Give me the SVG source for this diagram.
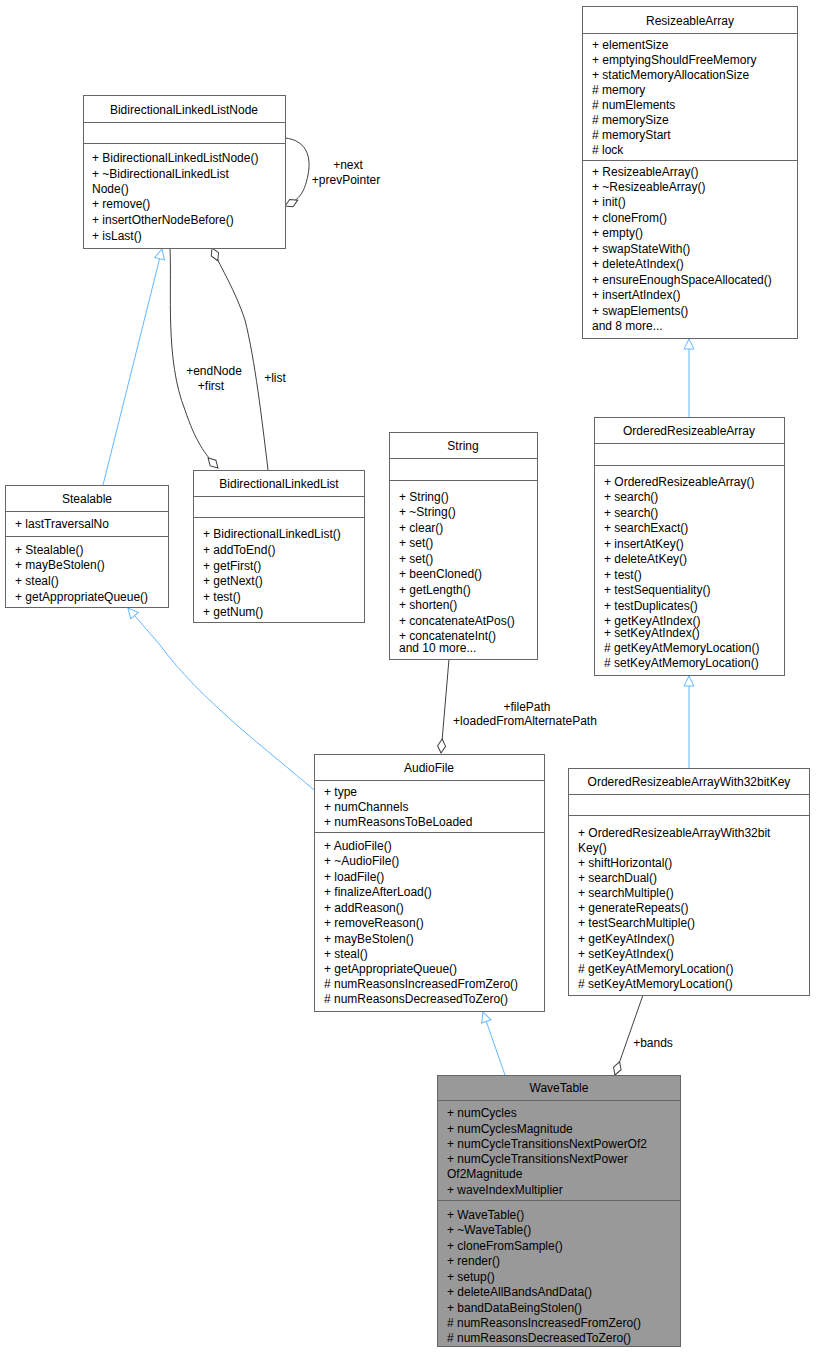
<svg xmlns="http://www.w3.org/2000/svg" width="816" height="1353" viewBox="0 0 816 1353">
<defs>
<style>
text{font-family:"Liberation Sans",Arial,sans-serif;font-size:12px;fill:#000}
.t{text-anchor:middle}
.box{fill:#fff;stroke:#666;stroke-width:1}
.sep{stroke:#666;stroke-width:1}
.inh{fill:none;stroke:#63b8ff;stroke-width:1}
.agg{fill:none;stroke:#404040;stroke-width:1}
</style>
<marker id="tri" viewBox="0 0 12 12" refX="11" refY="6" markerWidth="12" markerHeight="12" orient="auto" markerUnits="userSpaceOnUse"><path d="M1,1 L11,6 L1,11 Z" fill="#fff" stroke="#63b8ff"/></marker>
<marker id="dia" viewBox="0 0 16 10" refX="15" refY="5" markerWidth="16" markerHeight="10" orient="auto" markerUnits="userSpaceOnUse"><path d="M1,5 L8,1 L15,5 L8,9 Z" fill="#fff" stroke="#404040"/></marker>
</defs>
<rect width="816" height="1353" fill="#fff"/>
<g id="edges">
<path class="inh" d="M689,417 L689,339" marker-end="url(#tri)"/>
<path class="inh" d="M689,768 L689,676" marker-end="url(#tri)"/>
<path class="inh" d="M505,1075 L483,1012" marker-end="url(#tri)"/>
<path class="inh" d="M314,790 C270,752 200,700 160,645 L128,608" marker-end="url(#tri)"/>
<path class="inh" d="M103,485 L162,249" marker-end="url(#tri)"/>
<path class="agg" d="M285,138 C305,140 312,155 308,175 C304,195 298,200 285,206" marker-end="url(#dia)"/>
<path class="agg" d="M170,248 C172,290 165,360 185,410 C195,440 205,455 218,468" marker-end="url(#dia)"/>
<path class="agg" d="M268,470 C262,420 255,360 245,320 C235,290 222,270 212,248" marker-end="url(#dia)"/>
<path class="agg" d="M449,659 L441,753" marker-end="url(#dia)"/>
<path class="agg" d="M643,995 L615,1075" marker-end="url(#dia)"/>
<text x="348" y="169" class="t">+next</text>
<text x="346" y="184" class="t">+prevPointer</text>
<text x="214" y="375" class="t">+endNode</text>
<text x="211" y="390" class="t">+first</text>
<text x="275" y="382" class="t">+list</text>
<text x="527" y="711" class="t">+filePath</text>
<text x="525" y="725" class="t">+loadedFromAlternatePath</text>
<text x="653" y="1047" class="t">+bands</text>
</g>
<g id="ResizeableArray">
<rect class="box" x="582.5" y="6.5" width="215" height="332"/>
<text x="690" y="25" class="t">ResizeableArray</text>
<line class="sep" x1="582.5" y1="33.5" x2="797.5" y2="33.5"/>
<text x="592" y="49">+ elementSize</text><text x="592" y="64">+ emptyingShouldFreeMemory</text><text x="592" y="79">+ staticMemoryAllocationSize</text><text x="592" y="94"># memory</text><text x="592" y="109"># numElements</text><text x="592" y="124"># memorySize</text><text x="592" y="139"># memoryStart</text><text x="592" y="154"># lock</text>
<line class="sep" x1="582.5" y1="160.5" x2="797.5" y2="160.5"/>
<text x="592" y="176">+ ResizeableArray()</text><text x="592" y="191">+ ~ResizeableArray()</text><text x="592" y="206">+ init()</text><text x="592" y="222">+ cloneFrom()</text><text x="592" y="237">+ empty()</text><text x="592" y="253">+ swapStateWith()</text><text x="592" y="268">+ deleteAtIndex()</text><text x="592" y="284">+ ensureEnoughSpaceAllocated()</text><text x="592" y="299">+ insertAtIndex()</text><text x="592" y="315">+ swapElements()</text><text x="592" y="330">and 8 more...</text>
</g>
<g id="BidirectionalLinkedListNode">
<rect class="box" x="83.5" y="95.5" width="202" height="153"/>
<text x="184" y="114" class="t">BidirectionalLinkedListNode</text>
<line class="sep" x1="83.5" y1="122.5" x2="285.5" y2="122.5"/>
<line class="sep" x1="83.5" y1="143.5" x2="285.5" y2="143.5"/>
<text x="92" y="162">+ BidirectionalLinkedListNode()</text><text x="92" y="178">+ ~BidirectionalLinkedList</text><text x="92" y="193">Node()</text><text x="92" y="208">+ remove()</text><text x="92" y="224">+ insertOtherNodeBefore()</text><text x="92" y="240">+ isLast()</text>
</g>
<g id="Stealable">
<rect class="box" x="5.5" y="485.5" width="163" height="122"/>
<text x="87" y="503" class="t">Stealable</text>
<line class="sep" x1="5.5" y1="511.5" x2="168.5" y2="511.5"/>
<text x="15" y="528">+ lastTraversalNo</text>
<line class="sep" x1="5.5" y1="536.5" x2="168.5" y2="536.5"/>
<text x="15" y="554">+ Stealable()</text><text x="15" y="569">+ mayBeStolen()</text><text x="15" y="585">+ steal()</text><text x="15" y="601">+ getAppropriateQueue()</text>
</g>
<g id="BidirectionalLinkedList">
<rect class="box" x="193.5" y="470.5" width="171" height="152"/>
<text x="279" y="488" class="t">BidirectionalLinkedList</text>
<line class="sep" x1="193.5" y1="496.5" x2="364.5" y2="496.5"/>
<line class="sep" x1="193.5" y1="517.5" x2="364.5" y2="517.5"/>
<text x="203" y="538">+ BidirectionalLinkedList()</text><text x="203" y="554">+ addToEnd()</text><text x="203" y="570">+ getFirst()</text><text x="203" y="585">+ getNext()</text><text x="203" y="601">+ test()</text><text x="203" y="616">+ getNum()</text>
</g>
<g id="String">
<rect class="box" x="389.5" y="432.5" width="148" height="227"/>
<text x="463" y="450" class="t">String</text>
<line class="sep" x1="389.5" y1="458.5" x2="537.5" y2="458.5"/>
<line class="sep" x1="389.5" y1="480.5" x2="537.5" y2="480.5"/>
<text x="399" y="501">+ String()</text><text x="399" y="516">+ ~String()</text><text x="399" y="532">+ clear()</text><text x="399" y="547">+ set()</text><text x="399" y="563">+ set()</text><text x="399" y="578">+ beenCloned()</text><text x="399" y="594">+ getLength()</text><text x="399" y="609">+ shorten()</text><text x="399" y="625">+ concatenateAtPos()</text><text x="399" y="640">+ concatenateInt()</text><text x="399" y="652">and 10 more...</text>
</g>
<g id="OrderedResizeableArray">
<rect class="box" x="594.5" y="417.5" width="190" height="258"/>
<text x="689" y="435" class="t">OrderedResizeableArray</text>
<line class="sep" x1="594.5" y1="443.5" x2="784.5" y2="443.5"/>
<line class="sep" x1="594.5" y1="465.5" x2="784.5" y2="465.5"/>
<text x="604" y="486">+ OrderedResizeableArray()</text><text x="604" y="501">+ search()</text><text x="604" y="517">+ search()</text><text x="604" y="532">+ searchExact()</text><text x="604" y="548">+ insertAtKey()</text><text x="604" y="563">+ deleteAtKey()</text><text x="604" y="579">+ test()</text><text x="604" y="594">+ testSequentiality()</text><text x="604" y="610">+ testDuplicates()</text><text x="604" y="625">+ getKeyAtIndex()</text><text x="604" y="637">+ setKeyAtIndex()</text><text x="604" y="652"># getKeyAtMemoryLocation()</text><text x="604" y="667"># setKeyAtMemoryLocation()</text>
</g>
<g id="AudioFile">
<rect class="box" x="314.5" y="754.5" width="230" height="257"/>
<text x="429" y="772" class="t">AudioFile</text>
<line class="sep" x1="314.5" y1="780.5" x2="544.5" y2="780.5"/>
<text x="324" y="796">+ type</text><text x="324" y="811">+ numChannels</text><text x="324" y="826">+ numReasonsToBeLoaded</text>
<line class="sep" x1="314.5" y1="832.5" x2="544.5" y2="832.5"/>
<text x="324" y="850">+ AudioFile()</text><text x="324" y="865">+ ~AudioFile()</text><text x="324" y="881">+ loadFile()</text><text x="324" y="896">+ finalizeAfterLoad()</text><text x="324" y="912">+ addReason()</text><text x="324" y="927">+ removeReason()</text><text x="324" y="943">+ mayBeStolen()</text><text x="324" y="958">+ steal()</text><text x="324" y="973">+ getAppropriateQueue()</text><text x="324" y="988"># numReasonsIncreasedFromZero()</text><text x="324" y="1003"># numReasonsDecreasedToZero()</text>
</g>
<g id="OrderedResizeableArrayWith32bitKey">
<rect class="box" x="568.5" y="768.5" width="241" height="227"/>
<text x="689" y="786" class="t">OrderedResizeableArrayWith32bitKey</text>
<line class="sep" x1="568.5" y1="794.5" x2="809.5" y2="794.5"/>
<line class="sep" x1="568.5" y1="815.5" x2="809.5" y2="815.5"/>
<text x="578" y="837">+ OrderedResizeableArrayWith32bit</text><text x="578" y="852">Key()</text><text x="578" y="867">+ shiftHorizontal()</text><text x="578" y="882">+ searchDual()</text><text x="578" y="897">+ searchMultiple()</text><text x="578" y="912">+ generateRepeats()</text><text x="578" y="927">+ testSearchMultiple()</text><text x="578" y="943">+ getKeyAtIndex()</text><text x="578" y="958">+ setKeyAtIndex()</text><text x="578" y="973"># getKeyAtMemoryLocation()</text><text x="578" y="988"># setKeyAtMemoryLocation()</text>
</g>
<g id="WaveTable">
<rect x="437.5" y="1075.5" width="243" height="271" fill="#999" stroke="#666"/>
<text x="559" y="1092" class="t">WaveTable</text>
<line class="sep" x1="437.5" y1="1100.5" x2="680.5" y2="1100.5"/>
<text x="447" y="1117">+ numCycles</text><text x="447" y="1133">+ numCyclesMagnitude</text><text x="447" y="1148">+ numCycleTransitionsNextPowerOf2</text><text x="447" y="1163">+ numCycleTransitionsNextPower</text><text x="447" y="1178">Of2Magnitude</text><text x="447" y="1194">+ waveIndexMultiplier</text>
<line class="sep" x1="437.5" y1="1200.5" x2="680.5" y2="1200.5"/>
<text x="447" y="1219">+ WaveTable()</text><text x="447" y="1234">+ ~WaveTable()</text><text x="447" y="1250">+ cloneFromSample()</text><text x="447" y="1265">+ render()</text><text x="447" y="1281">+ setup()</text><text x="447" y="1296">+ deleteAllBandsAndData()</text><text x="447" y="1312">+ bandDataBeingStolen()</text><text x="447" y="1327"># numReasonsIncreasedFromZero()</text><text x="447" y="1342"># numReasonsDecreasedToZero()</text>
</g>
</svg>
